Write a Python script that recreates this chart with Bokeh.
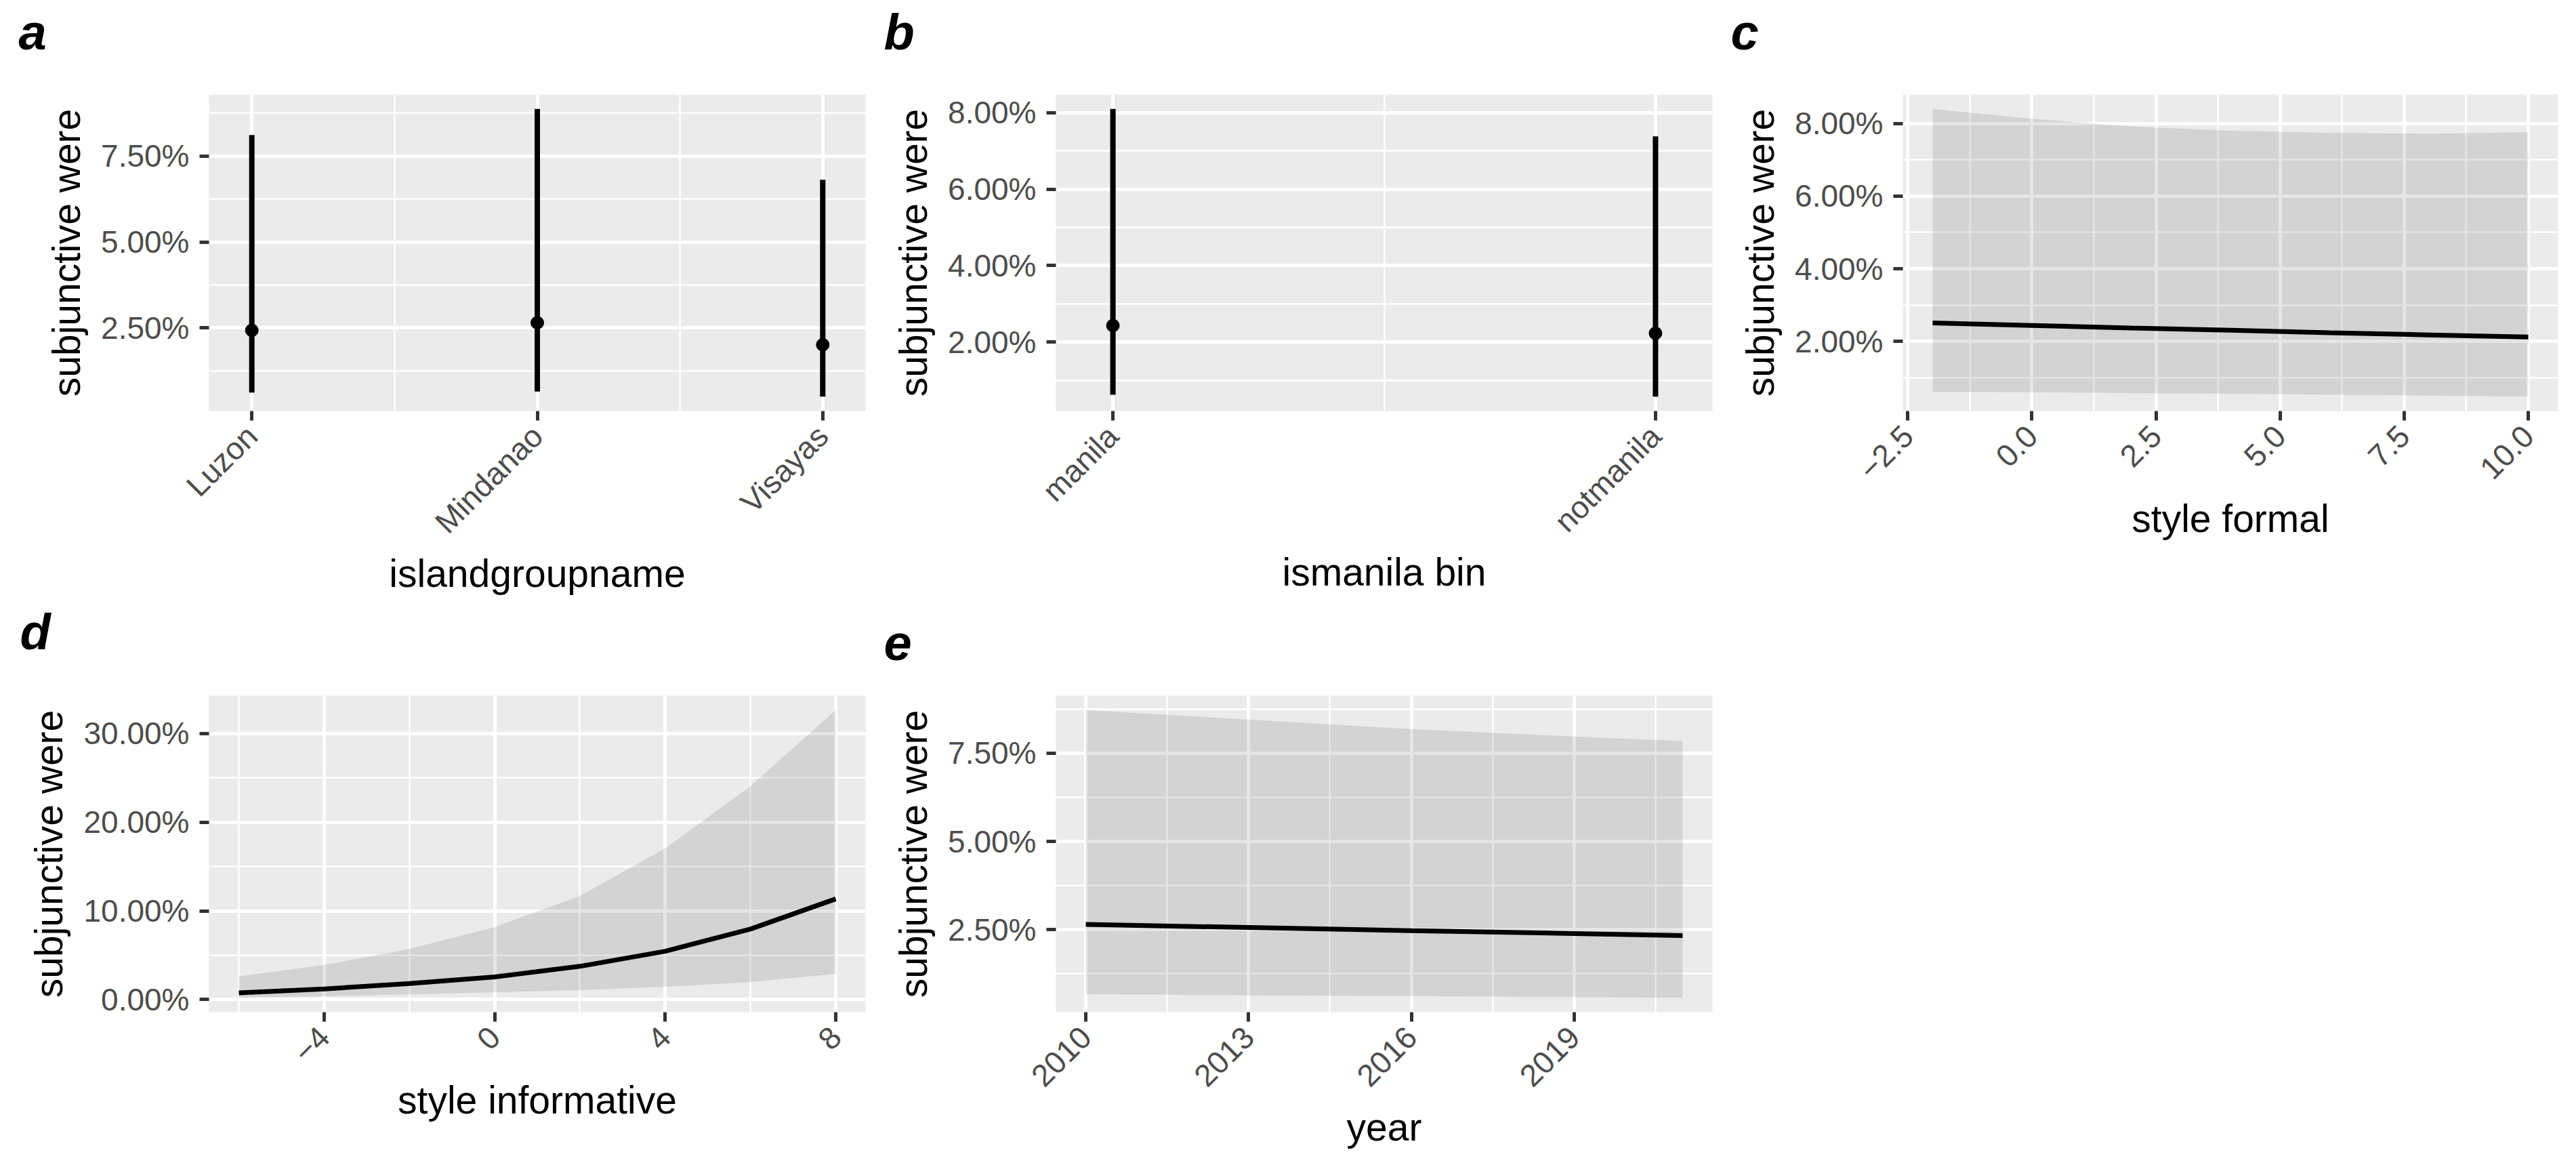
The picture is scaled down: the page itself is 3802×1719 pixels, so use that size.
import math

from bokeh.embed import file_html
from bokeh.layouts import column, row
from bokeh.models import (ColumnDataSource, FixedTicker, NumeralTickFormatter,
                          Range1d, Title)
from bokeh.plotting import figure
from bokeh.resources import INLINE

# ---- estimates (percent) -------------------------------------------------
island_groups = ["Luzon", "Mindanao", "Visayas"]
island_est = [2.43, 2.65, 2.01]
island_lo = [0.62, 0.65, 0.50]
island_hi = [8.11, 8.87, 6.81]

manila_bins = ["manila", "notmanila"]
manila_est = [2.43, 2.23]
manila_lo = [0.62, 0.57]
manila_hi = [8.10, 7.38]

formal_x = [-2, 0, 2, 4, 6, 8, 10]
formal_est = [2.51, 2.44, 2.37, 2.31, 2.24, 2.18, 2.12]
formal_lo = [0.61, 0.60, 0.58, 0.56, 0.53, 0.51, 0.48]
formal_hi = [8.40, 8.13, 7.92, 7.80, 7.74, 7.72, 7.76]

informative_x = [-6, -4, -2, 0, 2, 4, 6, 8]
informative_est = [0.75, 1.20, 1.80, 2.55, 3.75, 5.45, 7.95, 11.35]
informative_lo = [0.20, 0.37, 0.58, 0.82, 1.07, 1.44, 1.98, 2.89]
informative_hi = [2.60, 3.90, 5.70, 8.17, 11.68, 17.05, 24.07, 32.65]

years = [2010, 2013, 2016, 2019, 2021]
year_est = [2.65, 2.56, 2.47, 2.39, 2.33]
year_lo = [0.67, 0.64, 0.62, 0.59, 0.57]
year_hi = [8.72, 8.45, 8.18, 7.97, 7.84]

# ---- tick labels ------------------------------------------------------------
formal_ticks = [-2.5, 0.0, 2.5, 5.0, 7.5, 10.0]
formal_tick_labels = ["\u22122.5", "0.0", "2.5", "5.0", "7.5", "10.0"]
informative_ticks = [-4, 0, 4, 8]
informative_tick_labels = ["\u22124", "0", "4", "8"]
year_ticks = [2010, 2013, 2016, 2019]
year_tick_labels = ["2010", "2013", "2016", "2019"]

Y_TITLE = "subjunctive were"
FONT = "Liberation Sans"
BG = "#EBEBEB"
FRAME_W, FRAME_H = 969, 467


def pct(vals):
    return [v / 100.0 for v in vals]


def expand(lo, hi, frac=0.05):
    pad = (hi - lo) * frac
    return lo - pad, hi + pad


def midpoints(ticks, extra_low=False, extra_high=False):
    step = ticks[1] - ticks[0]
    mids = [(a + b) / 2 for a, b in zip(ticks[:-1], ticks[1:])]
    if extra_low:
        mids = [ticks[0] - step / 2] + mids
    if extra_high:
        mids = mids + [ticks[-1] + step / 2]
    return mids


def panel(letter, x_range, y_range, xticks, xminor, xlabels, yticks, yminor,
          x_title, left, right, top, bottom, letter_dx, letter_gap,
          x_title_standoff, frame_w=FRAME_W):
    p = figure(frame_width=frame_w, frame_height=FRAME_H,
               x_range=Range1d(*x_range), y_range=Range1d(*y_range),
               output_backend="svg", toolbar_location=None,
               title_location=None,
               min_border_left=left, min_border_right=right,
               min_border_top=top, min_border_bottom=bottom)
    p.background_fill_color = BG
    p.border_fill_color = "white"
    p.outline_line_color = None

    # panel letter sits above an empty spacer strip
    p.add_layout(Title(text=" ", text_font_size="1px", standoff=letter_gap),
                 "above")
    p.add_layout(Title(text=letter, align="left", offset=letter_dx, standoff=0,
                       text_font=FONT, text_font_style="bold italic",
                       text_font_size="74px", text_color="black"), "above")

    p.xaxis.ticker = FixedTicker(ticks=xticks, minor_ticks=xminor)
    p.xaxis.major_label_overrides = {t: l for t, l in zip(xticks, xlabels)}
    p.yaxis.ticker = FixedTicker(ticks=pct(yticks), minor_ticks=pct(yminor))
    p.yaxis.formatter = NumeralTickFormatter(format="0.00%")

    for ax in (p.xaxis[0], p.yaxis[0]):
        ax.axis_line_color = None
        ax.major_tick_line_color = "#333333"
        ax.major_tick_line_width = 5
        ax.major_tick_out = 14
        ax.major_tick_in = 0
        ax.minor_tick_line_color = None
        ax.major_label_text_font = FONT
        ax.major_label_text_font_size = "46px"
        ax.major_label_text_color = "#4D4D4D"
        ax.major_label_standoff = 15
        ax.axis_label_text_font = FONT
        ax.axis_label_text_font_size = "57px"
        ax.axis_label_text_font_style = "normal"
        ax.axis_label_text_color = "black"
    p.xaxis.major_label_orientation = math.pi / 4
    p.xaxis.axis_label = x_title
    p.xaxis.axis_label_standoff = x_title_standoff
    p.yaxis.axis_label = Y_TITLE
    p.yaxis.axis_label_standoff = 16

    for g in (p.xgrid[0], p.ygrid[0]):
        g.grid_line_color = "white"
        g.grid_line_width = 5
        g.minor_grid_line_color = "white"
        g.minor_grid_line_width = 2.5
    return p


def interval_panel(letter, cats, est, lo, hi, x_pad, yticks, yminor, x_title,
                   left, right, top, bottom, letter_dx, letter_gap,
                   x_title_standoff):
    pos = list(range(1, len(cats) + 1))
    y_range = expand(min(lo) / 100.0, max(hi) / 100.0)
    p = panel(letter, (1 - x_pad, len(cats) + x_pad), y_range, pos,
              midpoints(pos), cats, yticks, yminor, x_title,
              left, right, top, bottom, letter_dx, letter_gap,
              x_title_standoff)
    src = ColumnDataSource(dict(x=pos, est=pct(est), lo=pct(lo), hi=pct(hi)))
    p.segment(x0="x", y0="lo", x1="x", y1="hi", source=src,
              line_color="black", line_width=8)
    p.scatter(x="x", y="est", source=src, size=19, marker="circle",
              fill_color="black", line_color="black")
    return p


def curve_panel(letter, xs, est, lo, hi, xticks, xlabels, xminor, yticks,
                yminor, x_title, left, right, top, bottom, letter_dx,
                letter_gap, x_title_standoff, frame_w=FRAME_W):
    x_range = expand(min(xs), max(xs))
    y_range = expand(min(lo) / 100.0, max(hi) / 100.0)
    p = panel(letter, x_range, y_range, xticks, xminor, xlabels, yticks,
              yminor, x_title, left, right, top, bottom, letter_dx,
              letter_gap, x_title_standoff, frame_w=frame_w)
    src = ColumnDataSource(dict(x=xs, est=pct(est), lo=pct(lo), hi=pct(hi)))
    p.varea(x="x", y1="lo", y2="hi", source=src, fill_color="black",
            fill_alpha=0.1)
    p.line(x="x", y="est", source=src, line_color="black", line_width=7)
    return p


# ---- top row ----------------------------------------------------------------
TOP1, BOT1 = 139, 282
pa = interval_panel("a", island_groups, island_est, island_lo, island_hi, 0.15,
                    [2.5, 5.0, 7.5], [1.25, 3.75, 6.25, 8.75],
                    "islandgroupname", 308, 21, TOP1, BOT1, -281, 48, -4)
pb = interval_panel("b", manila_bins, manila_est, manila_lo, manila_hi, 0.105,
                    [2, 4, 6, 8], [1, 3, 5, 7], "ismanila bin",
                    260, 21, TOP1, BOT1, -254, 48, -4)
pc = curve_panel("c", formal_x, formal_est, formal_lo, formal_hi,
                 formal_ticks, formal_tick_labels,
                 midpoints(formal_ticks), [2, 4, 6, 8], [1, 3, 5, 7],
                 "style formal", 260, 27, TOP1, BOT1, -254, 48, 8,
                 frame_w=967)

# ---- bottom row -------------------------------------------------------------
TOP2, BOT2 = 136, 228
pd_ = curve_panel("d", informative_x, informative_est, informative_lo,
                  informative_hi, informative_ticks, informative_tick_labels,
                  midpoints(informative_ticks, extra_low=True),
                  [0, 10, 20, 30], [5, 15, 25], "style informative",
                  308, 21, TOP2, BOT2, -279, 50, 6)
pe = curve_panel("e", years, year_est, year_lo, year_hi, year_ticks,
                 year_tick_labels, midpoints(year_ticks, extra_high=True),
                 [2.5, 5.0, 7.5], [1.25, 3.75, 6.25, 8.75], "year",
                 260, 21, TOP2, BOT2, -254, 50, 11)

layout = column(row(pa, pb, pc, spacing=0), row(pd_, pe, spacing=0), spacing=0)

with open("out.html", "w") as fh:
    fh.write(file_html(layout, INLINE))
